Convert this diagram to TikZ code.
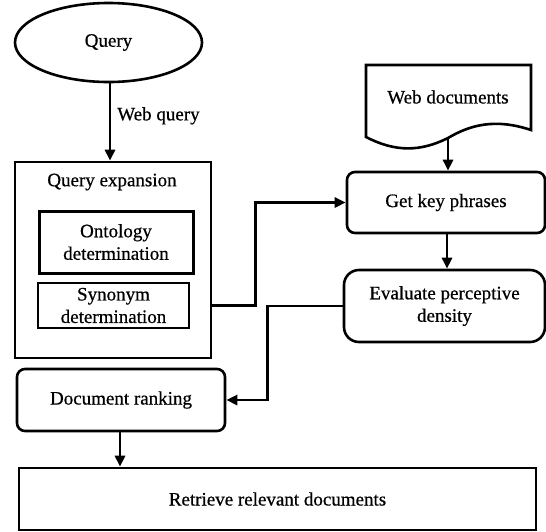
\documentclass[tikz,border=0pt]{standalone}
\usepackage{fontspec}
\setmainfont{Liberation Serif}[FakeBold=0.6]
\usetikzlibrary{arrows.meta,shapes.geometric}
\begin{document}
\begin{tikzpicture}[x=1pt,y=-1pt,
  every node/.style={font=\fontsize{19}{22.5}\selectfont, align=center, inner sep=0pt},
  box/.style={draw, line width=2.6pt, rectangle},
  rbox/.style={draw, line width=2.6pt, rectangle, rounded corners=8pt},
  conn/.style={line width=2.6pt, -{Triangle[length=11pt,width=10pt]}},
  plain/.style={line width=2.6pt}]
\useasboundingbox (0,0) rectangle (546,531);
% Query ellipse
\node[draw, ellipse, line width=2.6pt, minimum width=187pt, minimum height=79pt] (query) at (108.5,42.5) {Query};
% Query expansion
\node[box, minimum width=196pt, minimum height=196pt] (qe) at (113,260) {};
\node (qetitle) at (112,182) {Query expansion};
\node[box, line width=3pt, minimum width=154pt, minimum height=62pt] (onto) at (116,242) {Ontology\\determination};
\node[box, minimum width=151pt, minimum height=45pt] (syn) at (113.5,305.5) {Synonym\\determination};
% Web documents
\node (web) at (448,97) {Web documents};
\draw[plain, line join=miter] (366,137) -- (366,65) -- (531,65) -- (531,130)
   .. controls (495,118) and (470,125) .. (448,138)
   .. controls (420,152) and (395,152) .. (366,137) -- cycle;
\coordinate (webbot) at (448,139);
% Right column
\node[rbox, minimum width=198pt, minimum height=61pt] (gkp) at (446,202.5) {Get key phrases};
\node[rbox, rounded corners=15pt, minimum width=201pt, minimum height=72pt] (ev) at (444.5,306) {Evaluate perceptive\\density};
% Bottom
\node[rbox, minimum width=208pt, minimum height=62pt] (dr) at (121,400) {Document ranking};
\node[box, minimum width=517pt, minimum height=62pt] (ret) at (277.5,499) {Retrieve relevant documents};
% Connectors
\draw[conn] (query.south -| 110,0) -- node[right=6pt, pos=0.42] (wq) {Web query} (qe.north -| 110,0);
\draw[conn] (webbot) -- (gkp.north -| webbot);
\draw[conn] (gkp.south -| 447,0) -- (ev.north -| 447,0);
\draw[conn] (qe.east |- syn.center) -- ++(43,0) |- (gkp.west);
\draw[conn] (ev.west) -- ++(-75,0) |- (dr.east);
\draw[conn] (dr.south -| 120,0) -- (ret.north -| 120,0);
\end{tikzpicture}
\end{document}
